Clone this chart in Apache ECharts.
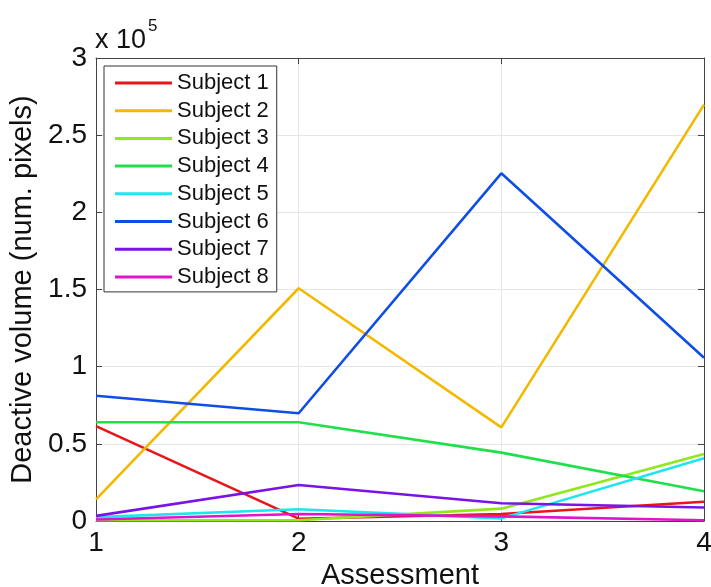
<!DOCTYPE html>
<html>
<head>
<meta charset="utf-8">
<script src="https://cdn.jsdelivr.net/npm/echarts@6/dist/echarts.min.js"></script>
<style>
html,body{margin:0;padding:0;background:#fff;}
#chart{width:711px;height:587px;}
</style>
</head>
<body>
<div id="chart"></div>
<script>
// Data (deactive volume, number of pixels)
var assessments = [1, 2, 3, 4];
var seriesNames = ['Subject 1','Subject 2','Subject 3','Subject 4','Subject 5','Subject 6','Subject 7','Subject 8'];
var subject1 = [61500, 1500, 4500, 12500];
var subject2 = [14000, 150800, 60700, 269800];
var subject3 = [500, 500, 8000, 43400];
var subject4 = [64000, 64000, 44300, 19300];
var subject5 = [2500, 7600, 1700, 40600];
var subject6 = [81200, 69800, 225300, 105800];
var subject7 = [3300, 23300, 11500, 8700];
var subject8 = [1000, 4500, 3000, 500];
var yTicks = [0, 50000, 100000, 150000, 200000, 250000, 300000];
var colors = ['#e8161b','#f4b800','#8ee81b','#1ee04a','#1ee6f0','#0f4ee6','#7a14e6','#e014c8'];

var allValues = [subject1, subject2, subject3, subject4, subject5, subject6, subject7, subject8];
var FONT = 'Liberation Sans, Arial, sans-serif';

var series = allValues.map(function (vals, i) {
  return {
    name: seriesNames[i],
    type: 'line',
    data: assessments.map(function (a, j) { return [a, vals[j]]; }),
    showSymbol: false,
    symbol: 'none',
    lineStyle: { color: colors[i], width: 2.6 },
    itemStyle: { color: colors[i] },
    xAxisIndex: 0,
    yAxisIndex: 0,
    animation: false
  };
});

var chart = echarts.init(document.getElementById('chart'), null, { renderer: 'canvas' });
chart.setOption({
  animation: false,
  backgroundColor: '#ffffff',
  grid: { left: 96, top: 58, right: 7, bottom: 66, containLabel: false, outerBoundsMode: 'none' },
  legend: {
    orient: 'vertical',
    left: 104,
    top: 66,
    data: seriesNames,
    icon: 'rect',
    itemWidth: 57,
    itemHeight: 3,
    itemGap: 5.7,
    padding: [6, 8, 4, 11],
    backgroundColor: '#ffffff',
    borderColor: '#333333',
    borderWidth: 1,
    textStyle: { fontFamily: FONT, fontSize: 22, color: '#111', lineHeight: 22 }
  },
  xAxis: [{
    type: 'value',
    min: 1, max: 4, interval: 1,
    name: 'Assessment',
    nameLocation: 'middle',
    nameGap: 38,
    nameTextStyle: { fontFamily: FONT, fontSize: 29, color: '#111' },
    axisLine: { show: true, onZero: false, lineStyle: { color: '#444', width: 1 } },
    axisTick: { show: true, inside: true, length: 6, lineStyle: { color: '#444' } },
    axisLabel: { fontFamily: FONT, fontSize: 28, color: '#111', margin: 8 },
    splitLine: { show: true, lineStyle: { color: '#e6e6e6', width: 1 } }
  }, {
    type: 'value',
    position: 'top',
    min: 1, max: 4, interval: 1,
    axisLine: { show: true, onZero: false, lineStyle: { color: '#444', width: 1 } },
    axisTick: { show: true, inside: true, length: 6, lineStyle: { color: '#444' } },
    axisLabel: { show: false },
    splitLine: { show: false }
  }],
  yAxis: [{
    type: 'value',
    min: 0, max: 300000, interval: 50000,
    name: 'Deactive volume (num. pixels)',
    nameLocation: 'middle',
    nameGap: 52,
    nameTextStyle: { fontFamily: FONT, fontSize: 29, color: '#111' },
    axisLine: { show: true, onZero: false, lineStyle: { color: '#444', width: 1 } },
    axisTick: { show: true, inside: true, length: 6, lineStyle: { color: '#444' } },
    axisLabel: {
      fontFamily: FONT, fontSize: 28, color: '#111', margin: 9,
      formatter: function (v) { return String(v / 100000); }
    },
    splitLine: { show: true, lineStyle: { color: '#e6e6e6', width: 1 } }
  }, {
    type: 'value',
    position: 'right',
    min: 0, max: 300000, interval: 50000,
    axisLine: { show: true, onZero: false, lineStyle: { color: '#444', width: 1 } },
    axisTick: { show: true, inside: true, length: 6, lineStyle: { color: '#444' } },
    axisLabel: { show: false },
    splitLine: { show: false }
  }],
  graphic: [{
    type: 'text',
    left: 95,
    top: 27,
    style: { text: 'x 10', fontFamily: FONT, fontSize: 27, fill: '#111' }
  }, {
    type: 'text',
    left: 148,
    top: 18,
    style: { text: '5', fontFamily: FONT, fontSize: 17, fill: '#111' }
  }],
  series: series
});
</script>
</body>
</html>
